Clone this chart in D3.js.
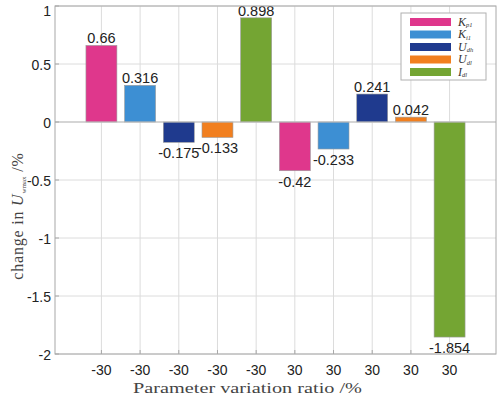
<!DOCTYPE html>
<html><head><meta charset="utf-8">
<script src="https://cdn.jsdelivr.net/npm/d3@7"></script>
<style>body{margin:0;background:#fff}svg{display:block}</style>
</head><body>
<script>
const categories = ["-30","-30","-30","-30","-30","30","30","30","30","30"];
const values = [0.66, 0.316, -0.175, -0.133, 0.898, -0.42, -0.233, 0.241, 0.042, -1.854];
const labels = ["0.66","0.316","-0.175","-0.133","0.898","-0.42","-0.233","0.241","0.042","-1.854"];
const seriesNames = [["K","p1"],["K","i1"],["U","dh"],["U","dl"],["I","dl"]];
const seriesColors = ["#df378c","#3d8fd3","#1f3a8e","#f17f1f","#74a533"];
const yTicks = [-2,-1.5,-1,-0.5,0,0.5,1];
const yTickLabels = ["-2","-1.5","-1","-0.5","0","0.5","1"];

const W = 498, H = 397;
const L = 55, R = 496, T = 6, B = 354;
const svg = d3.select("body").append("svg").attr("width", W).attr("height", H);

const x = d3.scaleLinear().domain([-0.2, 11.2]).range([L, R]);
const y = d3.scaleLinear().domain([-2, 1]).range([B, T]);
const step = x(2) - x(1);
const bw = step * 0.8;

// grid
const g = svg.append("g");
g.selectAll(".vg").data(categories).join("line")
  .attr("x1", (d,i)=>x(i+1)).attr("x2", (d,i)=>x(i+1))
  .attr("y1", T).attr("y2", B).attr("stroke", "#dcdcdc").attr("stroke-width", 1);
g.selectAll(".hg").data(yTicks).join("line")
  .attr("x1", L).attr("x2", R).attr("y1", d=>y(d)).attr("y2", d=>y(d))
  .attr("stroke", "#dcdcdc").attr("stroke-width", 1);

// bars
svg.selectAll(".bar").data(values).join("rect")
  .attr("x", (d,i)=>x(i+1) - bw/2)
  .attr("width", bw)
  .attr("y", d=>y(Math.max(0,d)))
  .attr("height", d=>Math.abs(y(d)-y(0)))
  .attr("fill", (d,i)=>seriesColors[i%5])
  .attr("stroke", "#9a9a9a").attr("stroke-width", 0.6);

// zero line
svg.append("line").attr("x1", L).attr("x2", R).attr("y1", y(0)).attr("y2", y(0))
  .attr("stroke", "#bdbdbd").attr("stroke-width", 1);

// value labels
svg.selectAll(".vl").data(values).join("text")
  .attr("x", (d,i)=>x(i+1))
  .attr("y", d=> d >= 0 ? y(d) - 2 : y(d) + 16)
  .attr("text-anchor", "middle")
  .attr("font-family", "Liberation Sans, Arial, sans-serif")
  .attr("font-size", 14.5).attr("fill", "#222")
  .text((d,i)=>labels[i]);

// frame
svg.append("rect").attr("x", L).attr("y", T).attr("width", R-L).attr("height", B-T)
  .attr("fill", "none").attr("stroke", "#a8a8a8").attr("stroke-width", 1);

// ticks
svg.selectAll(".xt").data(categories).join("line")
  .attr("x1", (d,i)=>x(i+1)).attr("x2", (d,i)=>x(i+1))
  .attr("y1", B).attr("y2", B-4).attr("stroke", "#a8a8a8");
svg.selectAll(".yt").data(yTicks).join("line")
  .attr("x1", L).attr("x2", L+4).attr("y1", d=>y(d)).attr("y2", d=>y(d)).attr("stroke", "#a8a8a8");

// tick labels
svg.selectAll(".xl").data(categories).join("text")
  .attr("x", (d,i)=>x(i+1)).attr("y", 374.5)
  .attr("text-anchor", "middle")
  .attr("font-family", "Liberation Sans, Arial, sans-serif")
  .attr("font-size", 14).attr("fill", "#222").text(d=>d);
svg.selectAll(".yl").data(yTicks).join("text")
  .attr("x", 51).attr("y", d=>Math.max(y(d)+5.5, 16))
  .attr("text-anchor", "end")
  .attr("font-family", "Liberation Sans, Arial, sans-serif")
  .attr("font-size", 14).attr("fill", "#222").text((d,i)=>yTickLabels[i]);

// x title
svg.append("text").attr("x", 247.5).attr("y", 393).attr("text-anchor", "middle")
  .attr("font-family", "Liberation Serif, serif").attr("font-size", 15).attr("fill", "#444")
  .attr("textLength", 229).attr("lengthAdjust", "spacingAndGlyphs")
  .text("Parameter variation ratio /%");

// y title
const yt = svg.append("text").attr("transform", "translate(23,216) rotate(-90)")
  .attr("text-anchor", "middle")
  .attr("font-family", "Liberation Serif, serif").attr("font-size", 16).attr("fill", "#444")
  .attr("letter-spacing", 0.8);
yt.append("tspan").text("change in ");
yt.append("tspan").attr("font-style", "italic").text("U");
yt.append("tspan").attr("font-size", 7).attr("dy", 3).attr("letter-spacing", 0).text("wmax");
yt.append("tspan").attr("dy", -3).text(" /%");

// legend
const lg = svg.append("g");
lg.append("rect").attr("x", 401).attr("y", 13).attr("width", 85).attr("height", 67)
  .attr("fill", "#fff").attr("stroke", "#b0b0b0").attr("stroke-width", 1);
seriesNames.forEach((s, i) => {
  const cy = 22 + i * 12.5;
  lg.append("rect").attr("x", 410).attr("y", cy - 4).attr("width", 41).attr("height", 8)
    .attr("fill", seriesColors[i]);
  const t = lg.append("text").attr("x", 458).attr("y", cy + 3.5)
    .attr("font-family", "Liberation Serif, serif").attr("font-size", 12).attr("fill", "#333");
  t.append("tspan").attr("font-style", "italic").text(s[0]);
  t.append("tspan").attr("font-style", "italic").attr("font-size", 6.5).attr("dy", 1.5).text(s[1]);
});
</script>
</body></html>
